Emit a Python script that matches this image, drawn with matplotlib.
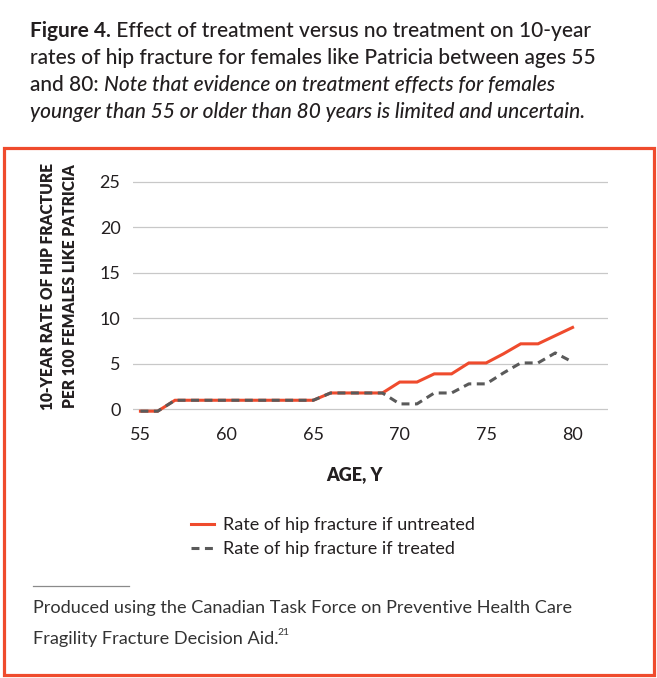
import matplotlib
matplotlib.use("Agg")
import matplotlib.pyplot as plt
from matplotlib.patches import Rectangle
from matplotlib.lines import Line2D

# data
ages = list(range(55, 81))
untreated = [-0.2, -0.2, 1, 1, 1, 1, 1, 1, 1, 1, 1, 1.8, 1.8, 1.8, 1.8,
             3, 3, 3.9, 3.9, 5.1, 5.1, 6.1, 7.2, 7.2, 8.1, 9.0]
treated = [-0.2, -0.2, 1, 1, 1, 1, 1, 1, 1, 1, 1, 1.8, 1.8, 1.8, 1.8,
           0.6, 0.6, 1.8, 1.8, 2.8, 2.8, 4.0, 5.1, 5.1, 6.2, 5.2]
x_ticks = [55, 60, 65, 70, 75, 80]
y_ticks = [0, 5, 10, 15, 20, 25]
series_labels = ["Rate of hip fracture if untreated", "Rate of hip fracture if treated"]

RED = "#ef4b2d"
GREY = "#5a5a5a"
TEXT = "#231f20"
FONT = ["Lato", "DejaVu Sans"]

W, H = 657, 678
plt.rcParams['font.family'] = FONT

fig = plt.figure(figsize=(W / 100, H / 100), dpi=100)


def fx(x):
    return x / W


def fy(y):
    return 1 - y / H


# red frame around the chart
fig.add_artist(Rectangle((fx(3.5), fy(674.5)), fx(650.5), (671 - 144.5) / H,
                         transform=fig.transFigure, fill=False,
                         edgecolor=RED, lw=2.3))

# title, built from pieces in different styles
renderer = fig.canvas.get_renderer()


def text_run(x, y, pieces, size):
    for txt, weight, style in pieces:
        t = fig.text(fx(x), fy(y), txt, fontsize=size, fontweight=weight,
                     fontstyle=style, color=TEXT, va='baseline', ha='left')
        x += t.get_window_extent(renderer).width


title_size = 15
text_run(30, 37, [("Figure 4.", "bold", "normal"),
                  (" Effect of treatment versus no treatment on 10-year", "medium", "normal")],
         title_size)
text_run(30, 64, [("rates of hip fracture for females like Patricia between ages 55",
                   "medium", "normal")], title_size)
text_run(30, 91, [("and 80: ", "medium", "normal"),
                  ("Note that evidence on treatment effects for females", "medium", "italic")],
         title_size)
text_run(30, 118, [("younger than 55 or older than 80 years is limited and uncertain.",
                    "medium", "italic")], title_size)

# main axes
ax = fig.add_axes([fx(133), fy(413), (608 - 133) / W, (413 - 170) / H])
ax.plot(ages, untreated, color=RED, lw=2.2, solid_joinstyle='miter',
        label=series_labels[0], zorder=3)
ax.plot(ages, treated, color=GREY, lw=2.2, dashes=(2.6, 1.8),
        label=series_labels[1], zorder=4)

ax.set_xlim(54.57, 82.05)
ax.set_ylim(-0.4, 26.3)
ax.set_xticks(x_ticks)
ax.set_yticks(y_ticks)
ax.yaxis.grid(True, color="#c8c8c8", lw=0.9)
ax.set_axisbelow(True)
for s in ax.spines.values():
    s.set_visible(False)
ax.tick_params(axis='both', length=0, labelsize=13, labelcolor=TEXT)
ax.tick_params(axis='y', pad=9)
ax.tick_params(axis='x', pad=10)

fig.text(fx(354), fy(475), "AGE, Y", fontsize=13, fontweight='heavy',
         color=TEXT, ha='center', va='center')
fig.text(fx(48), fy(286), "10-YEAR RATE OF HIP FRACTURE", fontsize=11.2,
         fontweight='heavy', color=TEXT, rotation=90, ha='center', va='center')
fig.text(fx(70), fy(286), "PER 100 FEMALES LIKE PATRICIA", fontsize=11.2,
         fontweight='heavy', color=TEXT, rotation=90, ha='center', va='center')

ax.legend(loc='upper left', bbox_to_anchor=(fx(191), fy(517)),
          bbox_transform=fig.transFigure, frameon=False, fontsize=13,
          handlelength=1.3, handletextpad=0.45, labelspacing=0.45,
          borderpad=0, borderaxespad=0, labelcolor=TEXT)

# footnote
fig.add_artist(Line2D([fx(33), fx(129)], [fy(586), fy(586)],
                      transform=fig.transFigure, color="#8a8a8a", lw=0.9))
fig.text(fx(33), fy(613), "Produced using the Canadian Task Force on Preventive Health Care",
         fontsize=13.1, fontweight='normal', color="#333333", va='baseline')
note = fig.text(fx(33), fy(644), "Fragility Fracture Decision Aid.",
                fontsize=13.1, fontweight='normal', color="#333333", va='baseline')
ext = note.get_window_extent(renderer)
fig.text(fx(33 + ext.width - 1), fy(635), "21", fontsize=7.5,
         fontweight='normal', color="#333333", va='baseline')

fig.savefig("out.png", dpi=100)
